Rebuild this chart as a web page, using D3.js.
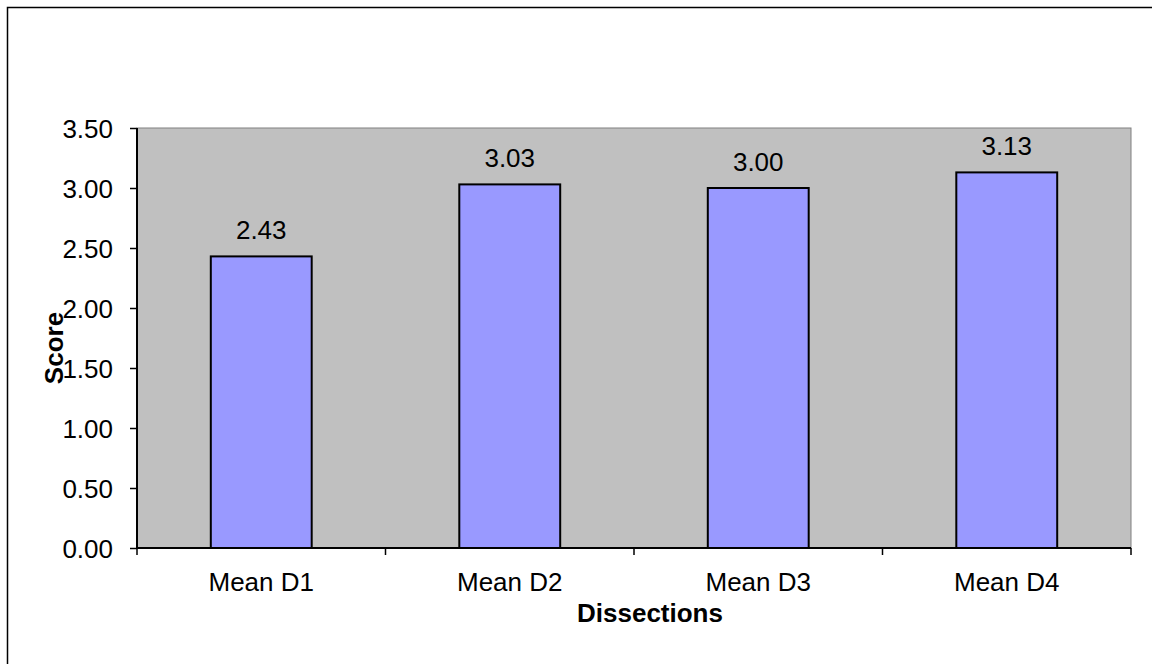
<!DOCTYPE html>
<html>
<head>
<meta charset="utf-8">
<script src="https://cdn.jsdelivr.net/npm/d3@7"></script>
<style>
  html, body { margin: 0; padding: 0; background: #fff; }
  svg { display: block; font-family: "Liberation Sans", Arial, sans-serif; }
</style>
</head>
<body>
<svg id="chart" width="1152" height="664"></svg>
<script>
const categories = ["Mean D1", "Mean D2", "Mean D3", "Mean D4"];
const values = [2.43, 3.03, 3.00, 3.13];
const yTicks = [0, 0.5, 1.0, 1.5, 2.0, 2.5, 3.0, 3.5];
const xTitle = "Dissections";
const yTitle = "Score";

const svg = d3.select("#chart");
const plot = { left: 137, right: 1131, top: 128, bottom: 548 };
const fs = 26;

// outer chart frame (extends past the visible window on right/bottom)
svg.append("rect")
  .attr("x", 7.5).attr("y", 7.5)
  .attr("width", 1300).attr("height", 800)
  .attr("fill", "#fff").attr("stroke", "#000").attr("stroke-width", 1.5);

const x = d3.scaleBand().domain(categories).range([plot.left, plot.right]).padding(0);
const y = d3.scaleLinear().domain([0, 3.5]).range([plot.bottom, plot.top]);

// plot area
svg.append("rect")
  .attr("x", plot.left).attr("y", plot.top)
  .attr("width", plot.right - plot.left).attr("height", plot.bottom - plot.top)
  .attr("fill", "#C0C0C0").attr("stroke", "#808080").attr("stroke-width", 1);

// bars
const barFrac = 0.406;
const bw = x.bandwidth() * barFrac;
svg.selectAll("rect.bar").data(values).enter().append("rect")
  .attr("class", "bar")
  .attr("x", (d, i) => x(categories[i]) + (x.bandwidth() - bw) / 2)
  .attr("y", d => y(d))
  .attr("width", bw)
  .attr("height", d => y(0) - y(d))
  .attr("fill", "#9999FF").attr("stroke", "#000").attr("stroke-width", 2);

// data labels
svg.selectAll("text.dl").data(values).enter().append("text")
  .attr("class", "dl")
  .attr("x", (d, i) => x(categories[i]) + x.bandwidth() / 2)
  .attr("y", d => y(d) - 17)
  .attr("text-anchor", "middle")
  .attr("font-size", fs)
  .attr("fill", "#000")
  .text(d => d.toFixed(2));

// y axis
const yAxis = d3.axisLeft(y).tickValues(yTicks).tickFormat(d3.format(".2f")).tickSize(7).tickPadding(17);
const gy = svg.append("g").attr("transform", `translate(${plot.left},0)`).call(yAxis);
gy.select(".domain").attr("stroke", "#000").attr("stroke-width", 2).attr("d", `M0,${plot.top}V${plot.bottom}`);
gy.selectAll(".tick line").attr("stroke", "#000").attr("stroke-width", 1.5);
gy.selectAll(".tick text").attr("font-size", fs).attr("fill", "#000")
  .attr("font-family", "'Liberation Sans', Arial, sans-serif").attr("dy", "0.36em");

// x axis: ticks at category boundaries
const gx = svg.append("g").attr("transform", `translate(0,${plot.bottom})`);
gx.append("path").attr("d", `M${plot.left},0H${plot.right}`).attr("stroke", "#000").attr("stroke-width", 2);
const bounds = categories.map(c => x(c)).concat([x(categories[categories.length - 1]) + x.bandwidth()]);
gx.selectAll("line.bt").data(bounds).enter().append("line")
  .attr("x1", d => d).attr("x2", d => d).attr("y1", 0).attr("y2", 7)
  .attr("stroke", "#000").attr("stroke-width", 1.5);
gx.selectAll("text.cl").data(categories).enter().append("text")
  .attr("x", d => x(d) + x.bandwidth() / 2)
  .attr("y", 43)
  .attr("text-anchor", "middle")
  .attr("font-size", fs)
  .attr("fill", "#000")
  .text(d => d);

// axis titles
svg.append("text")
  .attr("x", 650).attr("y", 622)
  .attr("text-anchor", "middle")
  .attr("font-size", fs).attr("font-weight", "bold")
  .text(xTitle);

svg.append("text")
  .attr("transform", "translate(63,348) rotate(-90)")
  .attr("text-anchor", "middle")
  .attr("font-size", fs).attr("font-weight", "bold")
  .text(yTitle);
</script>
</body>
</html>
